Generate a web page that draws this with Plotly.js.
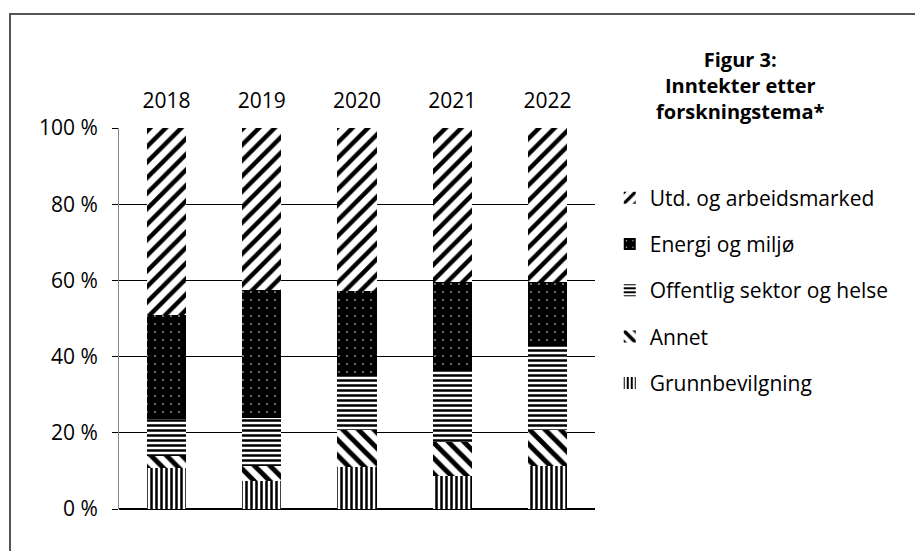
<!DOCTYPE html>
<html>
<head>
<meta charset="utf-8">
<script src="https://cdn.plot.ly/plotly-3.0.1.min.js"></script>
<style>
  html, body { margin: 0; padding: 0; background: #fff; overflow: hidden; }
  #wrap { position: relative; width: 915px; height: 551px; }
  #chart { width: 915px; height: 551px; }
  #frame { position: absolute; left: 9px; top: 13px; width: 1000px; height: 1000px;
           border-left: 2px solid #555; border-top: 2px solid #555; pointer-events: none; }
</style>
</head>
<body>
<div id="wrap">
  <div id="chart"></div>
  <div id="frame"></div>
</div>
<script>
const years = ['2018', '2019', '2020', '2021', '2022'];
const grunnbevilgning = [10.8, 7.4, 11.0, 8.6, 11.4];
const annet = [3.0, 4.0, 9.8, 9.1, 9.4];
const offentlig = [9.8, 12.5, 14.0, 18.4, 22.1];
const energi = [27.2, 33.5, 22.5, 23.6, 16.8];
const utd = [49.2, 42.6, 42.7, 40.3, 40.3];
const yTicks = [0, 20, 40, 60, 80, 100];
const yTickText = ['0 %', '20 %', '40 %', '60 %', '80 %', '100 %'];

const FONT = 'Open Sans, Noto Sans, Liberation Sans, sans-serif';

function series(name, vals, shape, fg, bg, size, solidity, rank) {
  return {
    type: 'bar', name: name, x: years, y: vals, width: 0.41,
    legendgroup: name, legendrank: rank,
    marker: {
      color: fg,
      line: { width: 0 },
      pattern: { shape: shape, fgcolor: fg, bgcolor: bg, fillmode: 'replace', size: size, solidity: solidity }
    },
    hoverinfo: 'skip'
  };
}

const data = [
  series('Grunnbevilgning', grunnbevilgning, '|', '#000', '#fff', 5, 0.5, 5),
  series('Annet', annet, '\\', '#000', '#fff', 11, 0.45, 4),
  series('Offentlig sektor og helse', offentlig, '-', '#000', '#fff', 5, 0.5, 3),
  series('Energi og miljø', energi, '.', '#fff', '#000', 8, 0.03, 2),
  series('Utd. og arbeidsmarked', utd, '/', '#000', '#fff', 11, 0.4, 1)
];

const layout = {
  width: 915, height: 551,
  margin: { l: 119, r: 320, t: 128, b: 42 },
  paper_bgcolor: '#fff', plot_bgcolor: '#fff',
  barmode: 'stack',
  font: { family: FONT, size: 21, color: '#000' },
  title: {
    text: '<b>Figur 3:<br>Inntekter etter<br>forskningstema*</b>',
    xref: 'container', yref: 'container',
    x: 0.809, xanchor: 'center', y: 0.878, yanchor: 'top',
    font: { family: FONT, size: 20, color: '#000' }
  },
  xaxis: {
    type: 'category', side: 'top', showgrid: false, showline: false, zeroline: false,
    ticks: '', tickfont: { size: 21 }, ticklabelstandoff: 15, fixedrange: true
  },
  yaxis: {
    range: [0, 100], tickvals: yTicks, ticktext: yTickText,
    showgrid: true, gridcolor: '#000', gridwidth: 1,
    zeroline: true, zerolinecolor: '#000', zerolinewidth: 2,
    showline: true, linecolor: '#888', linewidth: 1,
    ticks: 'outside', ticklen: 6, tickcolor: '#000', tickwidth: 1,
    ticklabelstandoff: 10,
    tickfont: { size: 21 }, fixedrange: true
  },
  legend: {
    x: 1.031, xanchor: 'left', y: 0.87, yanchor: 'top',
    traceorder: 'grouped', tracegroupgap: 16,
    font: { family: FONT, size: 21 }, bgcolor: 'rgba(0,0,0,0)', itemclick: false
  },
  showlegend: true
};

Plotly.newPlot('chart', data, layout, { displayModeBar: false, staticPlot: true });
</script>
</body>
</html>
